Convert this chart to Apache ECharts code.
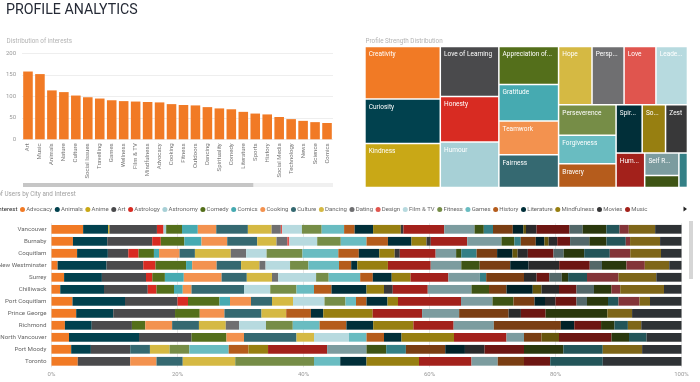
<!DOCTYPE html>
<html><head><meta charset="utf-8">
<script src="https://cdn.jsdelivr.net/npm/echarts@6/dist/echarts.min.js"></script>
<style>html,body{margin:0;padding:0;background:#fff}#c{width:700px;height:382px}</style>
</head><body><div id="c"></div>
<script>
// ---------- data ----------
const interests = ['Advocacy','Animals','Anime','Art','Astrology','Astronomy','Comedy','Comics','Cooking','Culture','Dancing','Dating','Design','Film & TV','Fitness','Games','History','Literature','Mindfulness','Movies','Music','Nature','News','Outdoors','Science','Social Issues','Social Justice','Social Media','Spirituality','Sports','Technology','Travelling','Volunteering','Wellness','Writing'];
const palette = ['#F17A25','#01414E','#C9A816','#4A4A4C','#D82B22','#A7D0D6','#546F1B','#46AAB1','#F3924F','#356971','#D5B943','#6F6F71','#E0554E','#B7DADF','#768D47','#69BCC1','#B55C1C','#012F39','#977F11','#383839','#A3211B','#7C9C9F','#3E5414','#348086','#7A3E13','#012228','#65550C','#2A2A2B','#6D1612','#536869','#2A380D','#235559','#833438','#7E6619','#2E3235'];

const barCategories = ['Art','Music','Animals','Nature','Culture','Social Issues','Travelling','Games','Wellness','Film & TV','Mindfulness','Advocacy','Cooking','Fitness','Outdoors','Dancing','Spirituality','Comedy','Literature','Sports','History','Social Media','Technology','News','Science','Comics','Anime','Astrology','Movies','Astronomy','Design','Dating','Volunteering','Social Justice','Writing'];
const barValues = [158,152,114,110,102,98,95,91,89,88,87,86,82,80,79,75,72,70,64,60,58,52,47,43,40,38,33,30,27,22,19,17,12,10,8];

const strengths = ['Creativity','Curiosity','Kindness','Love of Learning','Honesty','Humour','Appreciation of Beauty','Gratitude','Teamwork','Fairness','Hope','Perspective','Love','Leadership','Perseverence','Forgiveness','Bravery','Spirituality','Social Intelligence','Zest','Humility','Self Regulation','Prudence','Judgment'];
const strengthValues = [390,330,326,288,263,262,224,214,198,193,192,184,183,181,172,162,134,124,111,104,97,76,40,29];

const cities = ['Vancouver','Burnaby','Coquitlam','New Westminster','Surrey','Chilliwack','Port Coquitlam','Prince George','Richmond','North Vancouver','Port Moody','Toronto'];
// users per interest (same order as `interests`)
const vancouver      = [24,19,1,36,5,2,12,12,14,24,18,7,1,15,15,17,8,14,21,2,31,23,7,7,15,8,2,8,25,10,18,10,7,20,20];
const burnaby        = [10,16,0,21,4,0,11,8,12,14,9,5,1,13,11,12,10,11,7,2,17,16,6,3,7,4,2,4,6,9,8,9,2,14,10];
const coquitlam      = [5,6,0,4,2,0,3,1,4,3,7,3,0,4,7,7,4,4,3,1,7,4,1,3,4,3,1,2,5,2,4,5,4,6,4];
const newWestminster = [1,8,0,6,2,0,5,1,4,4,3,1,0,4,3,5,2,1,5,0,7,5,3,0,5,3,0,5,5,2,4,0,3,4,2];
const surrey         = [2,6,0,7,1,0,2,3,6,4,4,1,0,6,2,5,2,3,3,0,6,5,0,1,6,0,0,2,2,2,1,3,5,6,4];
const chilliwack     = [1,5,0,5,1,0,2,1,1,6,0,0,0,3,3,2,2,4,2,1,4,5,2,0,2,3,1,2,2,2,2,0,1,5,2];
const portCoquitlam  = [2,5,0,5,1,0,3,1,2,2,2,0,0,3,2,1,1,2,1,0,6,3,2,0,2,1,0,1,2,1,2,1,2,1,3];
const princeGeorge   = [2,3,0,5,0,0,2,0,2,3,2,0,0,0,0,0,2,1,4,0,4,3,0,0,4,0,0,1,2,0,5,0,0,2,4];
const richmond       = [1,2,0,3,0,0,1,0,2,2,2,1,0,2,2,2,2,2,3,0,3,3,0,0,5,1,0,0,2,0,1,1,0,1,3];
const northVancouver = [1,4,0,3,0,0,2,0,1,3,1,0,0,2,0,1,1,1,3,0,3,1,0,0,1,0,1,0,3,0,1,1,0,0,2];
const portMoody      = [1,1,0,2,0,0,0,0,0,1,1,0,0,0,1,2,1,0,1,0,3,2,1,1,2,1,0,1,2,0,2,2,0,2,2];
const toronto        = [1,0,0,2,0,0,0,0,1,1,2,0,0,0,3,1,0,1,2,0,2,1,0,0,1,0,0,0,1,0,0,2,0,0,3];
const cityRows = [vancouver,burnaby,coquitlam,newWestminster,surrey,chilliwack,portCoquitlam,princeGeorge,richmond,northVancouver,portMoody,toronto];

// ---------- chart ----------
const FONT = "'Segoe UI', Roboto, sans-serif";
const chart = echarts.init(document.getElementById('c'), null, {renderer:'canvas'});
const totals = cityRows.map(r => r.reduce((a,b)=>a+b,0));

const stackSeries = interests.map((name,i) => ({
  name, type:'bar', stack:'pct', xAxisIndex:1, yAxisIndex:1,
  barCategoryGap:'27%', itemStyle:{color:palette[i]},
  emphasis:{disabled:true},
  data: cityRows.map((r,ci) => r[i] / totals[ci] * 100)
}));

const smallTitle = {fontSize:6.3, fontWeight:'normal', color:'#b3b3b3', fontFamily:FONT};

chart.setOption({
  animation:false,
  textStyle:{fontFamily:FONT},
  title:[
    {text:'PROFILE ANALYTICS', left:6, top:3.5, padding:0, textStyle:{fontSize:14.2, fontWeight:'normal', color:'#252a36', fontFamily:FONT}},
    {text:'Distribution of interests', left:6.5, top:38.5, padding:0, textStyle:smallTitle},
    {text:'Profile Strength Distribution', left:365.5, top:38, padding:0, textStyle:smallTitle},
    {text:'% of Users by City and Interest', left:-9, top:191, padding:0, textStyle:Object.assign({}, smallTitle, {color:'#a0a0a0'})}
  ],
  legend:{
    data: interests.slice(0,21), left:20, top:206.5, icon:'circle',
    itemWidth:5, itemHeight:5, itemGap:2.6, padding:0,
    textStyle:{fontSize:6, color:'#666', fontFamily:FONT, padding:[0,0,0,-3.8]}
  },
  grid:[
    {left:22, top:53.5, width:311, height:85.8, outerBoundsMode:'none', containLabel:false},
    {left:51.5, top:223.3, width:630, height:144, outerBoundsMode:'none', containLabel:false}
  ],
  xAxis:[
    {type:'category', gridIndex:0, data:barCategories, axisLine:{show:false}, axisTick:{show:false},
     axisLabel:{rotate:90, interval:0, fontSize:6, color:'#777', margin:4}},
    {type:'value', gridIndex:1, min:0, max:100, interval:20,
     axisLabel:{formatter:'{value}%', fontSize:6, color:'#999', margin:4},
     splitLine:{lineStyle:{color:'#e6e6e6', width:1}}, axisLine:{show:false}, axisTick:{show:false}}
  ],
  yAxis:[
    {type:'value', gridIndex:0, min:0, max:200, interval:50,
     axisLabel:{fontSize:6, color:'#999', margin:6},
     splitLine:{lineStyle:{color:'#eeeeee'}}, axisLine:{show:false}, axisTick:{show:false}},
    {type:'category', gridIndex:1, data:cities, inverse:true, axisLine:{show:false}, axisTick:{show:false},
     axisLabel:{fontSize:6.2, color:'#666', margin:5}}
  ],
  dataZoom:[{type:'inside', xAxisIndex:0, startValue:0, endValue:25, zoomLock:true, zoomOnMouseWheel:false, moveOnMouseMove:false, moveOnMouseWheel:false}],
  series:[
    {type:'bar', xAxisIndex:0, yAxisIndex:0, data:barValues, barCategoryGap:'20%',
     itemStyle:{color:palette[0]}, emphasis:{disabled:true}},
    {type:'treemap', left:365.7, top:47.3, width:321, height:139.4,
     roam:false, nodeClick:false, breadcrumb:{show:false}, squareRatio:0.5*(1+Math.sqrt(5)),
     levels:[{itemStyle:{gapWidth:1.5, borderWidth:0}}],
     label:{show:true, position:'insideTopLeft', fontSize:6.5, color:'#fff', fontFamily:FONT, padding:[4,3],
       formatter: p => p.value < 60 ? '' : p.name},
     emphasis:{disabled:true},
     data: strengths.map((n,i) => ({name:n, value:strengthValues[i], itemStyle:{color:palette[i]}}))
    },
    ...stackSeries
  ],
  graphic:[
    {type:'text', x:17.5, y:209, style:{text:'Interest', align:'right', verticalAlign:'middle', fontSize:6.2, fill:'#333', fontFamily:FONT}},
    {type:'polygon', shape:{points:[[683.5,206.5],[687,209],[683.5,211.5]]}, style:{fill:'#222'}},
    {type:'rect', shape:{x:23, y:183, width:310, height:4}, style:{fill:'#f0f0f0'}},
    {type:'rect', shape:{x:23, y:183, width:310*26/35, height:4}, style:{fill:'#c6c6c6'}},
    {type:'rect', shape:{x:689, y:221, width:4, height:58}, style:{fill:'#d6d6d6'}}
  ]
});
</script></body></html>
